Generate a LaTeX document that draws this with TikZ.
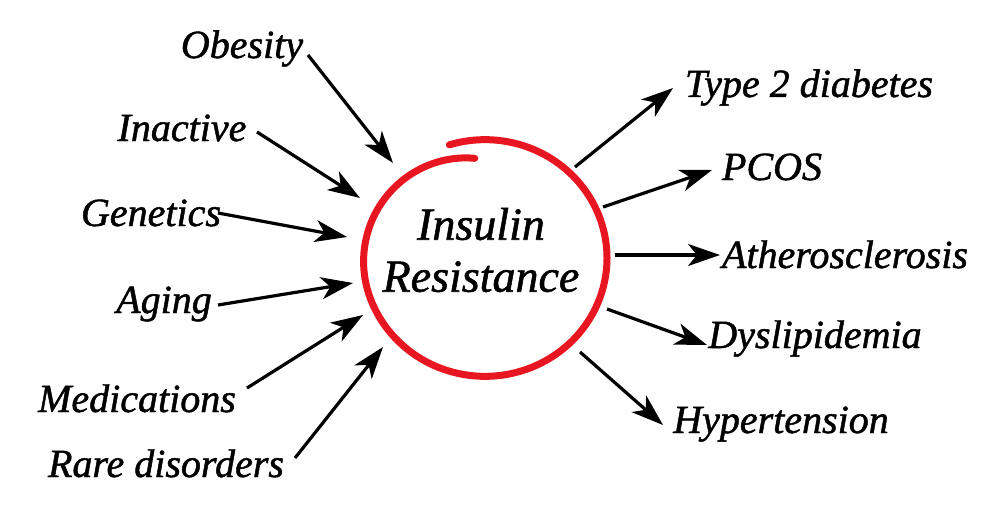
\documentclass[tikz,border=0pt]{standalone}
\usepackage{fontspec}
\newfontfamily\labelfont{Liberation Serif}[ItalicFont={Liberation Serif Italic}, ItalicFeatures={FakeBold=1.2}]
\usetikzlibrary{arrows.meta}
\definecolor{ringred}{RGB}{232,22,32}

\begin{document}
\begin{tikzpicture}[
  x=0.5pt, y=-0.5pt,
  lbl/.style={font=\labelfont\fontsize{20}{24}\selectfont\itshape, inner sep=0pt, anchor=base},
  core/.style={font=\labelfont\fontsize{23}{26}\selectfont\itshape, align=center, inner sep=0pt},
  ring/.style={ringred, line width=3.5pt, line cap=round},
  cause/.style={-{Stealth[length=16pt, width=11pt, inset=4.5pt]}, line width=1.6pt, black}
]
  \useasboundingbox (0,0) rectangle (1000,524);

  % hand drawn ring round the core
  \draw[ring] plot[variable=\t, domain=0:1, samples=150, smooth]
    ({485+(122-19*(max(0,(\t-0.72)/0.28))^2)*cos(107-372*\t)},
     {258-0.97*(122-19*(max(0,(\t-0.72)/0.28))^2)*sin(107-372*\t)});
  \node[core] (ir) at (481,250) {Insulin\\Resistance};

  % causes
  \node[lbl] (obesity)  at (242,58)  {Obesity};
  \node[lbl] (inactive) at (182,141) {Inactive};
  \node[lbl] (genetics) at (151,226) {Genetics};
  \node[lbl] (aging)    at (164,313) {Aging};
  \node[lbl] (medic)    at (137,412) {Medications};
  \node[lbl] (rare)     at (166,477) {Rare disorders};

  % consequences
  \node[lbl] (diab)  at (809,97)  {Type 2 diabetes};
  \node[lbl] (pcos)  at (772,180) {PCOS};
  \node[lbl] (ather) at (845,268) {Atherosclerosis};
  \node[lbl] (dysl)  at (815,348) {Dyslipidemia};
  \node[lbl] (hyper) at (781,433) {Hypertension};

  % arrow ends
  \coordinate (obesity-s)  at (308,55);   \coordinate (obesity-t)  at (393,163);
  \coordinate (inactive-s) at (257,132);  \coordinate (inactive-t) at (360,198);
  \coordinate (genetics-s) at (218,213);  \coordinate (genetics-t) at (347,237);
  \coordinate (aging-s)    at (218,305);  \coordinate (aging-t)    at (353,283);
  \coordinate (medic-s)    at (247,388);  \coordinate (medic-t)    at (363,315);
  \coordinate (rare-s)     at (295,458);  \coordinate (rare-t)     at (383,347);
  \coordinate (diab-s)  at (575,167);  \coordinate (diab-t)  at (673,88);
  \coordinate (pcos-s)  at (603,207);  \coordinate (pcos-t)  at (712,170);
  \coordinate (ather-s) at (615,255);  \coordinate (ather-t) at (720,255);
  \coordinate (dysl-s)  at (607,309);  \coordinate (dysl-t)  at (707,345);
  \coordinate (hyper-s) at (580,352);  \coordinate (hyper-t) at (663,425);

  \foreach \n in {obesity,inactive,genetics,aging,medic,rare,diab,pcos,ather,dysl,hyper}
    \draw[cause] (\n-s) -- (\n-t);
\end{tikzpicture}
\end{document}
